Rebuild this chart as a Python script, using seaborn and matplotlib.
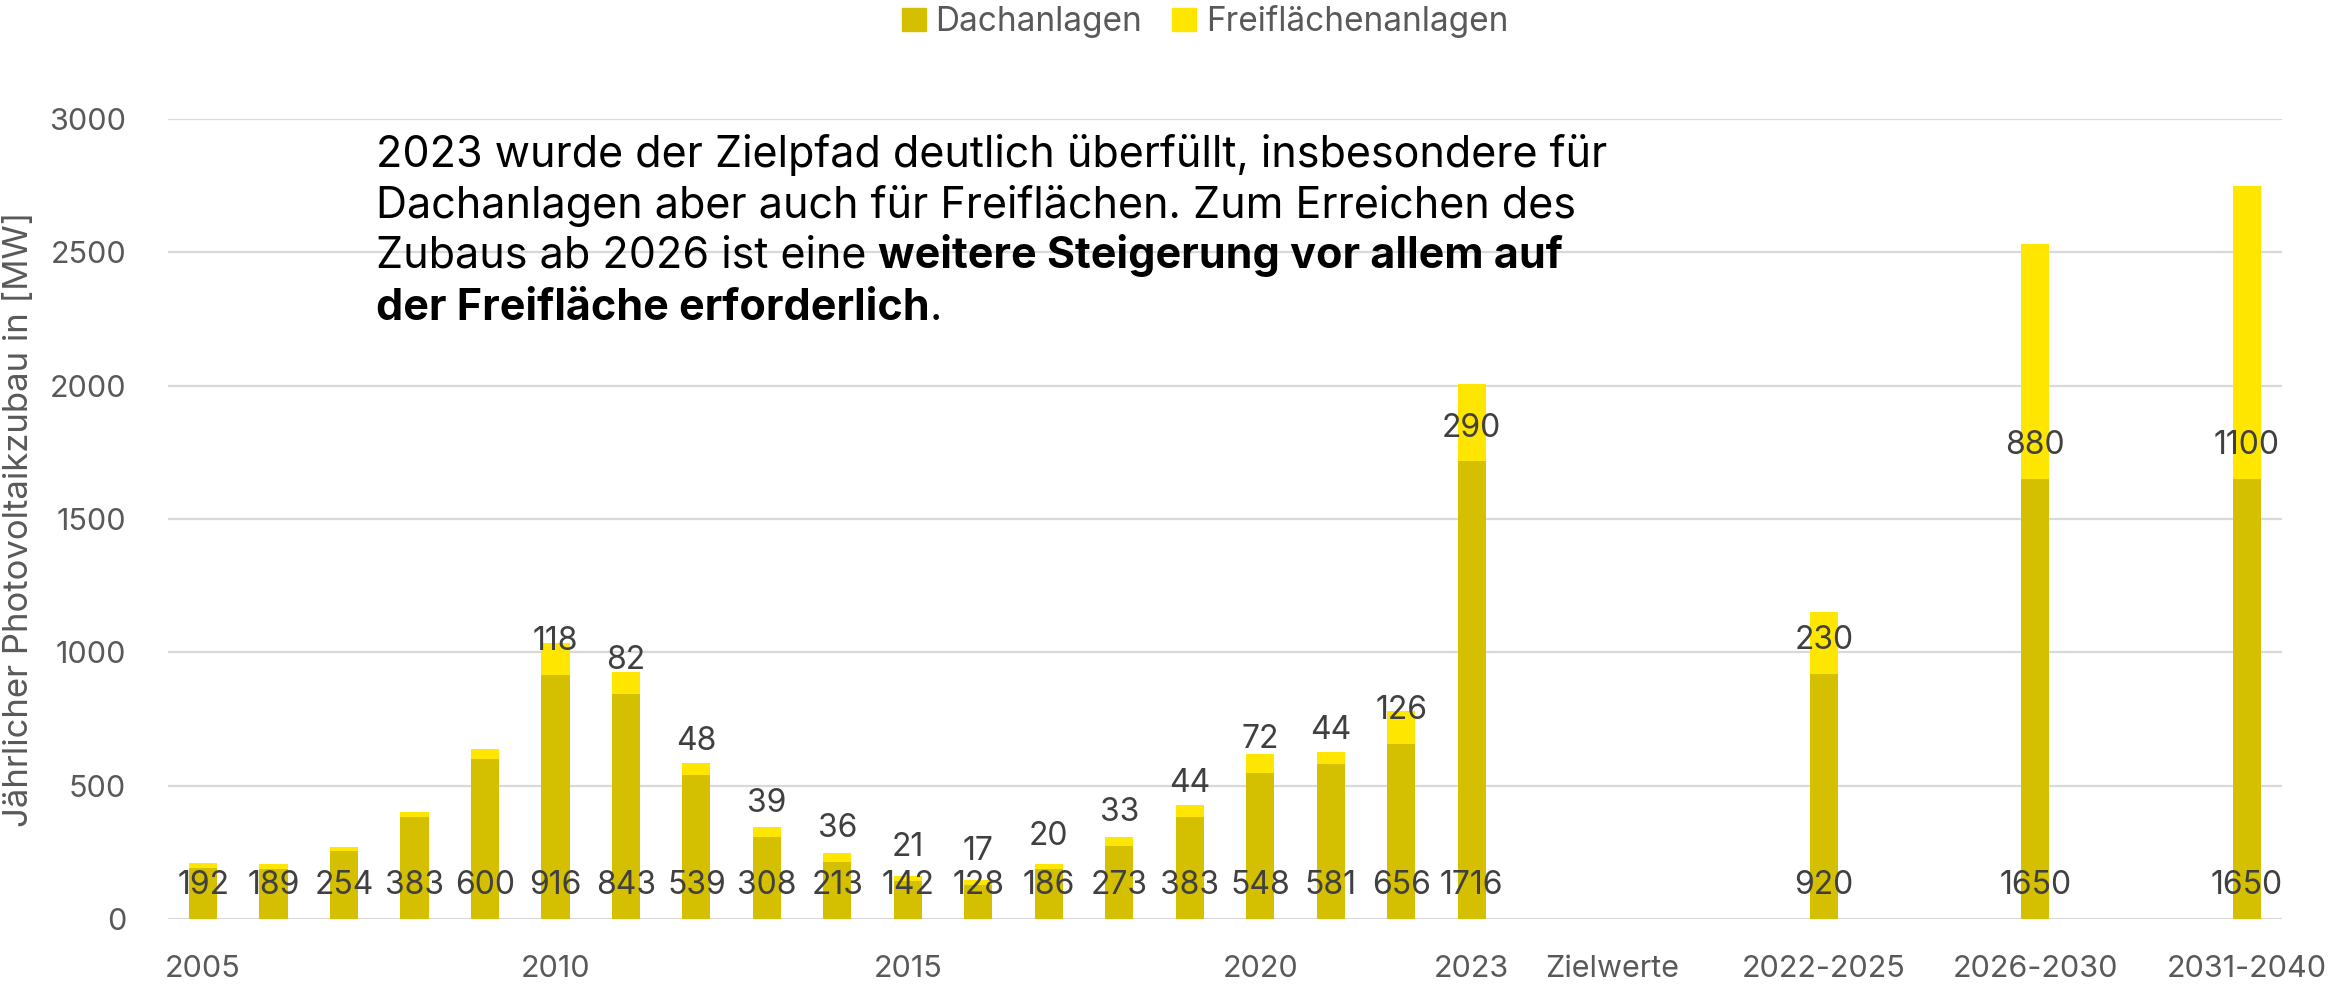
import matplotlib
matplotlib.use("Agg")
import matplotlib.pyplot as plt
import pandas as pd
import seaborn as sns
from matplotlib.patches import Patch

# values
years = [str(y) for y in range(2005, 2024)]
dach_years = [192, 189, 254, 383, 600, 916, 843, 539, 308, 213, 142, 128,
              186, 273, 383, 548, 581, 656, 1716]
frei_years = [20, 18, 18, 20, 38, 118, 82, 48, 39, 36, 21, 17,
              20, 33, 44, 72, 44, 126, 290]
target_periods = ["2022-2025", "2026-2030", "2031-2040"]
dach_targets = [920, 1650, 1650]
frei_targets = [230, 880, 1100]
year_ticks = ["2005", "2010", "2015", "2020", "2023"]
first_labelled_year = 2010

DACH = "#D4C000"
FREI = "#FFE600"
LABEL_C = "#404040"
TICK_C = "#595959"
GRID_C = "#D9D9D9"

# category order with empty slots between the groups
order = years + [" ", "Zielwerte", "  ", "   ", target_periods[0],
                 "    ", "     ", target_periods[1],
                 "      ", "       ", target_periods[2]]
dach = dict(zip(years + target_periods, dach_years + dach_targets))
frei = dict(zip(years + target_periods, frei_years + frei_targets))
df = pd.DataFrame({"cat": order})
df["dach"] = df["cat"].map(dach).fillna(0)
df["frei"] = df["cat"].map(frei).fillna(0)
df["total"] = df["dach"] + df["frei"]

sns.set_theme(style="white")
plt.rcParams["font.family"] = ["Inter", "DejaVu Sans"]

fig = plt.figure(figsize=(23.31, 9.84), dpi=100)
ax = fig.add_axes([0.072, 0.066, 0.907, 0.813])

sns.barplot(data=df, x="cat", y="total", order=order, color=FREI,
            width=0.4, saturation=1, errorbar=None, ax=ax, zorder=3,
            linewidth=0)
sns.barplot(data=df, x="cat", y="dach", order=order, color=DACH,
            width=0.4, saturation=1, errorbar=None, ax=ax, zorder=3,
            linewidth=0)

for i, row in df.iterrows():
    if row["dach"] <= 0:
        continue
    ax.annotate(f"{int(row['dach'])}", (i, 0), xytext=(0, 24),
                textcoords="offset points", ha="center", va="center",
                fontsize=23, color=LABEL_C, zorder=5)
    is_target = row["cat"] in target_periods
    if is_target or int(row["cat"]) >= first_labelled_year:
        ax.annotate(f"{int(row['frei'])}", (i, row["dach"]), xytext=(0, 24),
                    textcoords="offset points", ha="center", va="center",
                    fontsize=23, color=LABEL_C, zorder=5)

ax.set_ylim(0, 3000)
ax.set_xlim(-0.5, len(order) - 0.5)
ax.set_yticks(range(0, 3001, 500))
ax.yaxis.grid(True, color=GRID_C, linewidth=1.6, zorder=0)
ax.set_axisbelow(True)
sns.despine(ax=ax, left=True, bottom=True)
shown = set(year_ticks + ["Zielwerte"] + target_periods)
ax.set_xticks(range(len(order)))
ax.set_xticklabels([c if c in shown else "" for c in order])
ax.tick_params(axis="x", length=0, pad=26, labelsize=22, labelcolor=TICK_C)
ax.tick_params(axis="y", length=0, pad=30, labelsize=22, labelcolor=TICK_C)
ax.set_xlabel("")
ax.set_ylabel("Jährlicher Photovoltaikzubau in [MW]", fontsize=25,
              color=TICK_C, labelpad=10)

handles = [Patch(color=DACH, label="Dachanlagen"),
           Patch(color=FREI, label="Freiflächenanlagen")]
fig.legend(handles=handles, loc="upper center", bbox_to_anchor=(0.517, 1.025),
           ncol=2, frameon=False, fontsize=24, labelcolor=TICK_C,
           handlelength=0.7, handleheight=0.7, columnspacing=0.9,
           handletextpad=0.3)

# annotation with bold part
renderer = fig.canvas.get_renderer()
x0 = 376 / 2331
lines = [
    [("2023 wurde der Zielpfad deutlich überfüllt, insbesondere für", "normal")],
    [("Dachanlagen aber auch für Freiflächen. Zum Erreichen des", "normal")],
    [("Zubaus ab 2026 ist eine ", "normal"),
     ("weitere Steigerung vor allem auf", "bold")],
    [("der Freifläche erforderlich", "bold"), (".", "normal")],
]
baselines = [167, 218, 268, 320]
for parts, yb in zip(lines, baselines):
    x = x0
    for txt, w in parts:
        t = fig.text(x, 1 - yb / 984, txt, fontsize=31, fontweight=w,
                     color="black", ha="left", va="baseline")
        bb = t.get_window_extent(renderer)
        x = bb.x1 / fig.bbox.width

fig.savefig("out.png", dpi=100)
